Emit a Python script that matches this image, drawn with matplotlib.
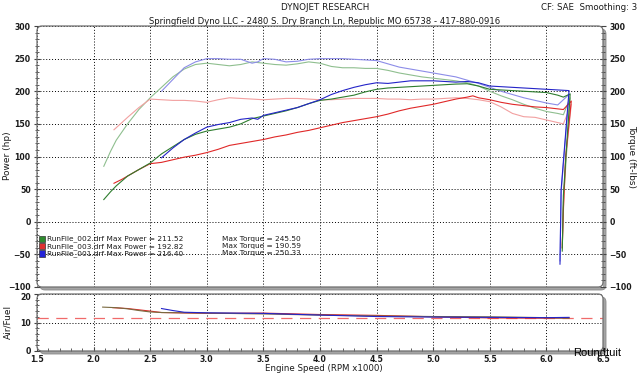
"""Dynojet run comparison - power / torque / air-fuel (matplotlib)."""

import matplotlib
matplotlib.use("Agg")
import matplotlib.pyplot as plt
import matplotlib.transforms as mtransforms
from matplotlib.patches import FancyBboxPatch, Rectangle
from matplotlib.ticker import MultipleLocator, FormatStrFormatter

# ── Data ──────────────────────────────────────────────────────────────────
# RunFile_002 (green)
rpm_002 = [2.09, 2.15, 2.2, 2.3, 2.4, 2.5, 2.6, 2.7, 2.8, 2.9, 3.0, 3.1, 3.2,
           3.3, 3.4, 3.5, 3.6, 3.7, 3.8, 3.9, 4.0, 4.1, 4.2, 4.3, 4.4, 4.5,
           4.6, 4.7, 4.8, 4.9, 5.0, 5.1, 5.2, 5.3, 5.4, 5.5, 5.6, 5.7, 5.8,
           5.9, 6.0, 6.1, 6.15, 6.21, 6.18, 6.15, 6.14]
hp_002 = [34, 46, 55, 70, 80, 90, 104, 115, 126, 134, 139, 142, 145,
          150, 158, 162, 166, 170, 175, 181, 186, 188, 191, 194, 199, 203,
          205, 206, 207, 208, 209, 210, 211, 211.5, 208, 203, 202, 201, 200,
          199, 198, 194, 191, 196, 120, 40, -45]
tq_002 = [85, 108, 125, 150, 172, 190, 206, 222, 234, 241, 243, 241, 239,
          241, 245, 243, 241, 240, 242, 245, 243, 238, 236, 236, 235, 235,
          232, 228, 225, 222, 220, 218, 216, 213, 208, 200, 193, 187, 180,
          174, 169, 166, 164, 190, 110, 30, -40]

# RunFile_003 (red)
rpm_003 = [2.18, 2.25, 2.3, 2.4, 2.5, 2.6, 2.7, 2.8, 2.9, 3.0, 3.1, 3.2, 3.3,
           3.4, 3.5, 3.6, 3.7, 3.8, 3.9, 4.0, 4.1, 4.2, 4.3, 4.4, 4.5, 4.6,
           4.7, 4.8, 4.9, 5.0, 5.1, 5.2, 5.3, 5.35, 5.4, 5.5, 5.6, 5.7, 5.8,
           5.9, 6.0, 6.1, 6.15, 6.22, 6.17, 6.15, 6.14]
hp_003 = [59, 65, 70, 80, 89, 91, 95, 99, 102, 106, 111, 117, 120,
          123, 126, 130, 133, 137, 140, 144, 148, 152, 155, 158, 161, 165,
          170, 174, 177, 180, 184, 188, 191, 193, 190, 187, 183, 180, 178,
          176, 175, 173, 172, 185, 100, 20, -40]
tq_003 = [141, 152, 160, 175, 188, 187, 186, 186, 185, 183, 187, 190, 189,
          188, 187, 188, 189, 189, 188, 187, 187, 188, 189, 189, 189, 188,
          188, 187, 188, 188, 189, 190, 189, 188, 187, 184, 176, 166, 161,
          160, 156, 152, 150, 180, 95, 15, -35]

# RunFile_001 (blue)
rpm_001 = [2.6, 2.7, 2.8, 2.9, 3.0, 3.1, 3.2, 3.3, 3.4, 3.45, 3.5, 3.6, 3.7,
           3.8, 3.9, 4.0, 4.1, 4.2, 4.3, 4.4, 4.5, 4.6, 4.7, 4.8, 4.9, 5.0,
           5.1, 5.2, 5.3, 5.4, 5.5, 5.6, 5.7, 5.8, 5.9, 6.0, 6.1, 6.2, 6.13,
           6.12]
hp_001 = [98, 113, 126, 136, 145, 149, 152, 157, 159, 157, 163, 167, 171,
          175, 181, 187, 195, 201, 206, 210, 213, 212, 214, 216, 216, 216,
          215, 214, 215, 213, 208, 207, 206, 205, 204, 203, 202, 201, 49, -65]
tq_001 = [200, 218, 236, 245, 250, 250, 249, 249, 243, 245, 250, 249, 245,
          246, 249, 250, 250, 250, 249, 248, 247, 242, 237, 234, 231, 228,
          225, 222, 217, 212, 206, 200, 195, 190, 186, 182, 179, 195, 45, -60]

# Air / fuel
afr_rpm_002 = [2.08, 2.2, 2.3, 2.4, 2.5, 2.6, 2.8, 3.0, 3.5, 4.0, 4.5, 5.0,
               5.5, 6.0, 6.2]
afr_002 = [15.4, 15.2, 14.8, 14.2, 13.7, 13.5, 13.4, 13.3, 13.0, 12.6, 12.3,
           12.1, 12.0, 11.7, 11.5]
afr_rpm_003 = [2.17, 2.3, 2.5, 2.6, 3.0, 3.5, 4.0, 4.5, 5.0, 5.5, 6.0, 6.2]
afr_003 = [15.2, 14.9, 14.0, 13.5, 13.2, 13.3, 12.8, 12.5, 12.0, 11.6, 11.5,
           11.6]
afr_rpm_001 = [2.6, 2.7, 2.8, 3.0, 3.5, 4.0, 4.5, 5.0, 5.5, 6.0, 6.2]
afr_001 = [14.9, 14.2, 13.6, 13.4, 13.2, 12.6, 12.1, 11.9, 11.8, 11.7, 11.8]
afr_target = 11.6

legend_runs = [
    ("RunFile_002.drf", 211.52, 245.50, "#2e8b2e"),
    ("RunFile_003.drf", 192.82, 190.59, "#e03030"),
    ("RunFile_001.drf", 216.40, 250.33, "#2424d8"),
]

# ── Style ─────────────────────────────────────────────────────────────────
W, H, DPI = 640, 373, 100
TEXT = "#1a1a1a"
FRAME = "#6e6e6e"
SHADOW = "#a4a4a4"
FONT = "DejaVu Sans"

GREEN_P, GREEN_T = "#2e7d2e", "#8fbf8f"
RED_P, RED_T = "#e02828", "#f2a0a0"
BLUE_P, BLUE_T = "#2424c8", "#8c8ce8"

plt.rcParams["font.family"] = FONT


def px_rect(x0, y_top, x1, y_bot):
    """Pixel box (from top-left origin) -> figure fraction rect."""
    return [x0 / W, (H - y_bot) / H, (x1 - x0) / W, (y_bot - y_top) / H]


def frame(fig, x0, y_top, x1, y_bot):
    # grey bevel on right / bottom, thin dark outline, rounded corners
    fig.add_artist(FancyBboxPatch((x0 + 3, H - y_bot - 3), x1 - x0, y_bot - y_top,
                                  boxstyle="round,pad=0,rounding_size=5",
                                  fc=SHADOW, ec="#8a8a8a", lw=0.6,
                                  transform=None, zorder=-1))
    fig.add_artist(FancyBboxPatch((x0, H - y_bot), x1 - x0, y_bot - y_top,
                                  boxstyle="round,pad=0,rounding_size=5",
                                  fc="none", ec=FRAME, lw=0.9,
                                  transform=None, zorder=5))


def style_axes(ax, size=5.6):
    for s in ax.spines.values():
        s.set_visible(False)
    ax.set_facecolor("white")
    ax.tick_params(axis="both", which="both", colors="#444444",
                   labelcolor=TEXT, labelsize=size)
    for lbl in ax.get_yticklabels() + ax.get_xticklabels():
        lbl.set_fontweight("bold")


fig = plt.figure(figsize=(W / DPI, H / DPI), dpi=DPI)
fig.patch.set_facecolor("white")

# ── Main power / torque axes ──────────────────────────────────────────────
ax = fig.add_axes(px_rect(37, 26, 603, 287))
frame(fig, 37, 26, 603, 287)
ax.set_xlim(1.5, 6.5)
ax.set_ylim(-100, 300)
ax.xaxis.set_major_locator(MultipleLocator(0.5))
ax.yaxis.set_major_locator(MultipleLocator(50))
ax.yaxis.set_minor_locator(MultipleLocator(10))
ax.grid(True, which="major", color="black", linestyle=(0, (1, 2)), lw=0.7)
ax.tick_params(axis="x", length=0, labelbottom=False)
ax.tick_params(axis="y", which="major", direction="inout", length=5,
               left=True, right=True, labelleft=True, labelright=True, pad=2)
ax.tick_params(axis="y", which="minor", direction="inout", length=3,
               left=True, right=True)
ax.set_yticks(range(-100, 301, 50))
style_axes(ax)

ax.plot(rpm_002, tq_002, color=GREEN_T, lw=0.8)
ax.plot(rpm_003, tq_003, color=RED_T, lw=0.8)
ax.plot(rpm_001, tq_001, color=BLUE_T, lw=0.8)
ax.plot(rpm_003, hp_003, color=RED_P, lw=0.8)
ax.plot(rpm_002, hp_002, color=GREEN_P, lw=0.8)
ax.plot(rpm_001, hp_001, color=BLUE_P, lw=0.8)

# run legend (squares + text)
for i, (name, mp, mt, col) in enumerate(legend_runs):
    yc = 239.0 + 7.2 * i
    fy = (287 - yc) / 261
    ax.add_patch(Rectangle(((38.5 - 37) / 566, fy - 0.012), 6 / 566, 0.024,
                           transform=ax.transAxes, fc=col, ec="#333333",
                           lw=0.5, zorder=6, clip_on=False))
    ax.text((47 - 37) / 566, fy, f"{name} Max Power = {mp:.2f}",
            transform=ax.transAxes, fontsize=5.3, color=TEXT, va="center",
            zorder=6)
    ax.text((222 - 37) / 566, fy, f"Max Torque = {mt:.2f}",
            transform=ax.transAxes, fontsize=5.3, color=TEXT, va="center",
            zorder=6)

# ── Air / fuel axes ───────────────────────────────────────────────────────
ax2 = fig.add_axes(px_rect(37, 294, 603, 351))
frame(fig, 37, 294, 603, 351)
ax2.set_xlim(1.5, 6.5)
ax2.set_ylim(0, 20)
ax2.set_yticks([0, 10, 20])
ax2.yaxis.set_minor_locator(MultipleLocator(2))
ax2.xaxis.set_major_locator(MultipleLocator(0.5))
ax2.xaxis.set_minor_locator(MultipleLocator(0.1))
ax2.xaxis.set_major_formatter(FormatStrFormatter("%.1f"))
ax2.grid(True, which="major", color="black", linestyle=(0, (1, 2)), lw=0.7)
ax2.tick_params(axis="y", which="major", direction="inout", length=5, pad=2)
ax2.tick_params(axis="y", which="minor", direction="inout", length=3)
ax2.tick_params(axis="x", which="major", direction="in", length=3, pad=3)
ax2.tick_params(axis="x", which="minor", direction="in", length=2)
style_axes(ax2)

# nudge the top "20" label down a touch so it clears "-100" above it
top_lbl = ax2.get_yticklabels()[-1]
top_lbl.set_transform(top_lbl.get_transform() +
                      mtransforms.ScaledTranslation(0, -1.5 / 72,
                                                    fig.dpi_scale_trans))

ax2.axhline(afr_target, color="#f06a6a", lw=0.9, linestyle=(0, (9, 6)))
ax2.plot(afr_rpm_003, afr_003, color=RED_P, lw=0.8)
ax2.plot(afr_rpm_002, afr_002, color="#7a6a40", lw=0.8)
ax2.plot(afr_rpm_001, afr_001, color=BLUE_P, lw=0.8)

# ── Texts ─────────────────────────────────────────────────────────────────
fig.text(325 / W, 1 - 8 / H, "DYNOJET RESEARCH", ha="center", va="center",
         fontsize=6.3, color=TEXT)
fig.text(325 / W, 1 - 21.5 / H,
         "Springfield Dyno LLC - 2480 S. Dry Branch Ln, Republic MO 65738 - 417-880-0916",
         ha="center", va="center", fontsize=6.1, color=TEXT)
fig.text(637 / W, 1 - 7 / H, "CF: SAE  Smoothing: 3", ha="right",
         va="center", fontsize=6.2, color=TEXT)
fig.text(8 / W, 1 - 156 / H, "Power (hp)", rotation=90, ha="center",
         va="center", fontsize=6.5, color=TEXT)
fig.text(632 / W, 1 - 156 / H, "Torque (ft-lbs)", rotation=270, ha="center",
         va="center", fontsize=6.5, color=TEXT)
fig.text(8 / W, 1 - 322 / H, "Air/Fuel", rotation=90, ha="center",
         va="center", fontsize=6.5, color=TEXT)
fig.text(324 / W, 1 - 368.5 / H, "Engine Speed (RPM x1000)", ha="center",
         va="center", fontsize=6.2, color=TEXT)
fig.text(597 / W, 1 - 353 / H, "Roundtuit", ha="center", va="center",
         fontsize=8, color="black", family="Liberation Sans", zorder=10)

fig.savefig("out.png", dpi=DPI, facecolor="white")
